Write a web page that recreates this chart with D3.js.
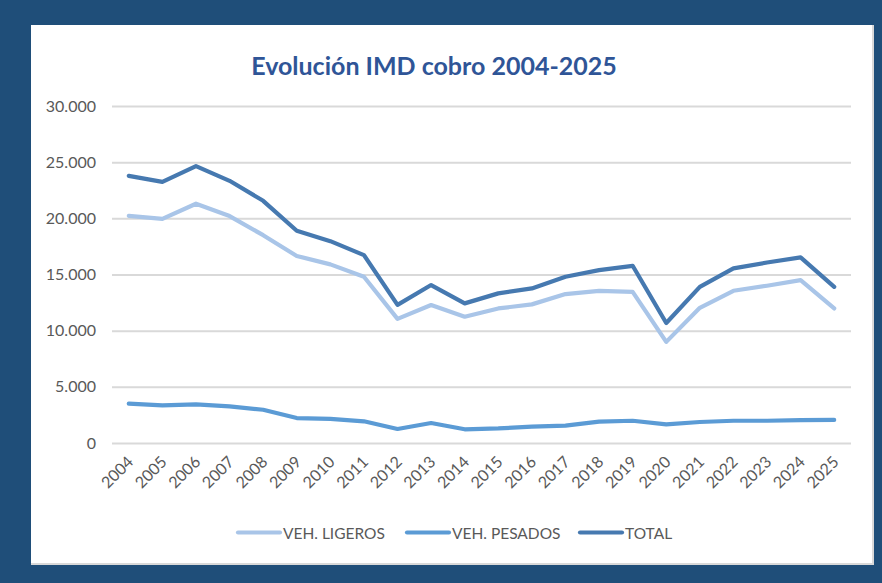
<!DOCTYPE html>
<html>
<head>
<meta charset="utf-8">
<script src="https://cdn.jsdelivr.net/npm/d3@7/dist/d3.min.js"></script>
<style>
  html, body { margin: 0; padding: 0; background: #1F4E79; }
  svg { display: block; }
</style>
</head>
<body>
<svg id="chart" width="882" height="583"></svg>
<script>
const years = ["2004","2005","2006","2007","2008","2009","2010","2011","2012","2013","2014","2015","2016","2017","2018","2019","2020","2021","2022","2023","2024","2025"];
const ligeros = [20220,19950,21300,20200,18500,16650,15900,14800,11050,12280,11240,11980,12340,13260,13550,13460,9000,12040,13550,14000,14500,11980];
const pesados = [3500,3350,3440,3260,2960,2220,2140,1930,1250,1780,1220,1300,1450,1540,1900,1980,1660,1870,1980,1980,2030,2050];
const total = [23780,23250,24650,23340,21560,18890,17970,16730,12300,14060,12430,13320,13760,14800,15390,15775,10680,13900,15540,16070,16520,13900];
const yTicks = [0,5000,10000,15000,20000,25000,30000];
const seriesNames = ["VEH. LIGEROS","VEH. PESADOS","TOTAL"];
const seriesColors = ["#A9C5E8","#5B9BD5","#4679B0"];
const titleText = "Evolución IMD cobro 2004-2025";

const svg = d3.select("#chart");
const font = "Lato, 'Open Sans', sans-serif";

// background
svg.append("rect").attr("x",0).attr("y",0).attr("width",882).attr("height",583).attr("fill","#1F4E79");
svg.append("rect").attr("x",31).attr("y",25).attr("width",843).attr("height",540).attr("fill","#D9D9D9");
svg.append("rect").attr("x",31).attr("y",25).attr("width",841).attr("height",538).attr("fill","#FFFFFF");

// title
svg.append("text").attr("x",434).attr("y",75)
  .attr("text-anchor","middle").attr("font-family",font).attr("font-weight","bold")
  .attr("font-size","25px").attr("fill","#2F5597").text(titleText);

const x = d3.scalePoint().domain(years).range([112,851]).padding(0.5);
const y = d3.scaleLinear().domain([0,30000]).range([443,106]);

const loc = d3.formatLocale({decimal: ",", thousands: ".", grouping: [3], currency: ["",""]});
const fmt = loc.format(",");

// gridlines
const yAxis = d3.axisLeft(y).tickValues(yTicks).tickFormat(fmt).tickSize(-739).tickPadding(16);
const gy = svg.append("g").attr("transform","translate(112,0)").call(yAxis);
gy.select(".domain").remove();
gy.selectAll(".tick line").attr("stroke","#D9D9D9").attr("stroke-width",2);
gy.selectAll(".tick text").attr("font-family",font).attr("font-size","16px").attr("fill","#595959");

// x axis labels
const xAxis = d3.axisBottom(x).tickSize(0).tickPadding(0);
const gx = svg.append("g").attr("transform","translate(0,443)").call(xAxis);
gx.select(".domain").remove();
gx.selectAll(".tick text")
  .attr("font-family",font).attr("font-size","16px").attr("fill","#595959")
  .attr("text-anchor","end").attr("dy",null)
  .attr("transform","translate(5,20) rotate(-45)");

// lines
const data = [ligeros, pesados, total];
const line = d3.line().x((d,i)=>x(years[i])).y(d=>y(d));
data.forEach((s,k)=>{
  svg.append("path").datum(s).attr("d",line).attr("fill","none")
    .attr("stroke",seriesColors[k]).attr("stroke-width",4.2)
    .attr("stroke-linejoin","round").attr("stroke-linecap","round");
});

// legend
const legX = [238,407,580];
const lg = svg.append("g");
seriesNames.forEach((n,k)=>{
  lg.append("line").attr("x1",legX[k]).attr("x2",legX[k]+42).attr("y1",532.5).attr("y2",532.5)
    .attr("stroke",seriesColors[k]).attr("stroke-width",4.2).attr("stroke-linecap","round");
  lg.append("text").attr("x",legX[k]+45).attr("y",539).attr("font-family",font)
    .attr("font-size","15.5px").attr("fill","#595959").text(n);
});
</script>
</body>
</html>
